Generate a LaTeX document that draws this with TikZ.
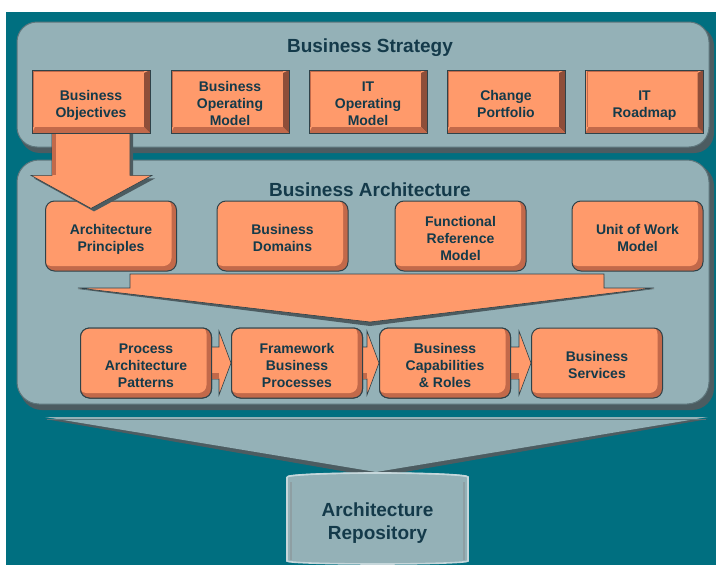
\documentclass[tikz,border=0pt]{standalone}
\usepackage{fontspec}
\setmainfont{Liberation Sans}
\usetikzlibrary{calc}
\definecolor{bg}{HTML}{006F80}
\definecolor{panel}{HTML}{94B1B7}
\definecolor{pshadow}{HTML}{4C5C61}
\definecolor{pedge}{HTML}{5E767C}
\definecolor{orange}{HTML}{FF9A6B}
\definecolor{odark}{HTML}{C2694A}
\definecolor{odarker}{HTML}{8E4E39}
\definecolor{oline}{HTML}{2F4249}
\definecolor{txt}{HTML}{143A4A}
\definecolor{cylrim}{HTML}{C6D7DB}
\newcommand\mylines[1]{\raisebox{0pt}[\dimexpr\height+7.5pt\relax][\depth]{\begin{tabular}{@{}c@{}}#1\end{tabular}}}
\tikzset{
  lbl/.style={align=center,text=txt,font=\bfseries\fontsize{14}{17}\selectfont,inner sep=0pt},
  title/.style={text=txt,font=\bfseries\fontsize{19}{22}\selectfont,inner sep=0pt},
  tbox/.style={lbl,minimum width=118pt,minimum height=63pt,fill=orange,draw=oline,line width=0.8pt,
    path picture={
      \fill[odarker] (path picture bounding box.south east) -- (path picture bounding box.north east)
        -- ([xshift=-6pt,yshift=-3pt]path picture bounding box.north east)
        -- ([xshift=-6pt,yshift=6pt]path picture bounding box.south east) -- cycle;
      \fill[odark] (path picture bounding box.south west) -- (path picture bounding box.south east)
        -- ([xshift=-6pt,yshift=6pt]path picture bounding box.south east)
        -- ([xshift=3pt,yshift=6pt]path picture bounding box.south west) -- cycle;
      \draw[odark,line width=1pt] ([xshift=1.5pt,yshift=6pt]path picture bounding box.south west)
        -- ([xshift=1.5pt,yshift=-1.5pt]path picture bounding box.north west)
        -- ([xshift=-6pt,yshift=-1.5pt]path picture bounding box.north east);
    }},
  rbox/.style={lbl,minimum width=131pt,minimum height=70pt,rounded corners=9pt,fill=odark,draw=oline,line width=1pt,
    path picture={
      \fill[orange,rounded corners=8pt] ([xshift=-2pt,yshift=2pt]path picture bounding box.north west)
        rectangle ([xshift=-5pt,yshift=5pt]path picture bounding box.south east);
    }},
  fat/.style={fill=orange,draw=oline,line width=0.6pt,line join=miter},
  shad/.style={fill=pshadow},
}
\begin{document}
\begin{tikzpicture}[x=1pt,y=-1pt]
\useasboundingbox (0,0) rectangle (716,565);
\fill[white] (0,0) rectangle (716,565);
\fill[bg] (6,12) rectangle (716,565);

% panels
\fill[shad,rounded corners=20pt] (20,26) rectangle (714,153);
\filldraw[fill=panel,draw=pedge,line width=1pt,rounded corners=20pt] (17,22) rectangle (709,147);
\node[title] (tstrat) at (370,48) {Business Strategy};

\fill[shad,rounded corners=22pt] (20,164) rectangle (714,410);
\filldraw[fill=panel,draw=pedge,line width=1pt,rounded corners=22pt] (17,160) rectangle (709,404);
\node[title] (tarch) at (370,190) {Business Architecture};

% top row
\node[tbox] (bo)  at (91,101.5)  {\mylines{Business\\Objectives}};
\node[tbox] (bom) at (230,101.5) {\mylines{Business\\Operating\\Model}};
\node[tbox] (itm) at (368,101.5) {\mylines{IT\\Operating\\Model}};
\node[tbox] (cp)  at (506,101.5) {\mylines{Change\\Portfolio}};
\node[tbox] (itr) at (644.5,101.5) {\mylines{IT\\Roadmap}};

% row 2
\node[rbox] (ap) at (111,236)   {\mylines{Architecture\\Principles}};
\node[rbox] (bd) at (282.5,236) {\mylines{Business\\Domains}};
\node[rbox] (fr) at (460.5,236) {\mylines{Functional\\Reference\\Model}};
\node[rbox] (uw) at (637.5,236) {\mylines{Unit of Work\\Model}};

% big down arrow from Business Objectives into Architecture Principles
\fill[shad] ($(bo.south)+(-36,-2)$) -- ($(bo.south)+(42,-2)$) -- ($(bo.south)+(42,45)$) -- ($(bo.south)+(64,45)$)
  -- ($(bo.south)+(3,78)$) -- ($(bo.south)+(-57,45)$) -- ($(bo.south)+(-36,45)$) -- cycle;
\filldraw[fat] ($(bo.south)+(-39,-2)$) -- ($(bo.south)+(39,-2)$) -- ($(bo.south)+(39,42)$) -- ($(bo.south)+(61,42)$)
  -- ($(bo.south)+(0,75)$) -- ($(bo.south)+(-60,42)$) -- ($(bo.south)+(-39,42)$) -- cycle;
\fill[odark] ($(bo.south)+(-39,-2)$) -- ($(bo.south)+(-35,-2)$) -- ($(bo.south)+(-35,42)$) -- ($(bo.south)+(-39,42)$) -- cycle;
\node[tbox] at (bo) {\mylines{Business\\Objectives}};

% merging funnel arrow
\coordinate (ftip) at (370,322);
\fill[shad] (130,277) -- (604,277) -- (604,291) -- (654,289) -- ($(ftip)+(0,4)$) -- (78,289) -- (130,291) -- cycle;
\filldraw[fat] (130,274) -- (604,274) -- (604,288) -- (654,288) -- (ftip) -- (78,288) -- (130,288) -- cycle;

% row 3
\node[rbox] (pa) at (146,363) {\mylines{Process\\Architecture\\Patterns}};
\node[rbox] (fb) at (297,363) {\mylines{Framework\\Business\\Processes}};
\node[rbox] (bc) at (445,363) {\mylines{Business\\Capabilities\\\& Roles}};
\node[rbox] (bs) at (597,363) {\mylines{Business\\Services}};

% small arrows between row-3 boxes
\foreach \a/\b in {pa/fb,fb/bc,bc/bs}{
  \filldraw[fat] ($(\a.east)+(-8,-16)$) -- ($(\b.west)+(-12,-16)$) -- ($(\b.west)+(-12,-32)$) -- (\b.west)
    -- ($(\b.west)+(-12,32)$) -- ($(\b.west)+(-12,16)$) -- ($(\a.east)+(-8,16)$) -- cycle;
  \fill[odark] ($(\a.east)+(-8,10)$) -- ($(\b.west)+(-12,10)$) -- ($(\b.west)+(-12,16)$) -- ($(\a.east)+(-8,16)$) -- cycle;
}
\node[rbox] at (pa) {\mylines{Process\\Architecture\\Patterns}};
\node[rbox] at (fb) {\mylines{Framework\\Business\\Processes}};
\node[rbox] at (bc) {\mylines{Business\\Capabilities\\\& Roles}};

% bottom funnel to repository
\fill[shad] (45,419) -- (708,419) -- (376,477) -- cycle;
\fill[panel] (45,417) -- (708,417) -- (376,472) -- cycle;
\draw[pedge,line width=0.8pt] (47,419.5) -- (706,419.5);

% repository cylinder
\filldraw[fill=panel,draw=cylrim,line width=1.6pt] (287,477) -- (287,561) arc[start angle=180,end angle=360,x radius=90.5,y radius=-3] -- (468,477) arc[start angle=0,end angle=-180,x radius=90.5,y radius=4];
\draw[cylrim,line width=1.2pt] (287,477) arc[start angle=180,end angle=0,x radius=90.5,y radius=-4];
\draw[pedge!70,line width=1.5pt] (291,482) -- (291,560);
\draw[pedge!70,line width=1.5pt] (464,482) -- (464,560);
\node[align=center,text=txt,font=\bfseries\fontsize{19}{23}\selectfont,inner sep=0pt] (repo) at (377.5,523) {Architecture\\Repository};
\end{tikzpicture}
\end{document}
